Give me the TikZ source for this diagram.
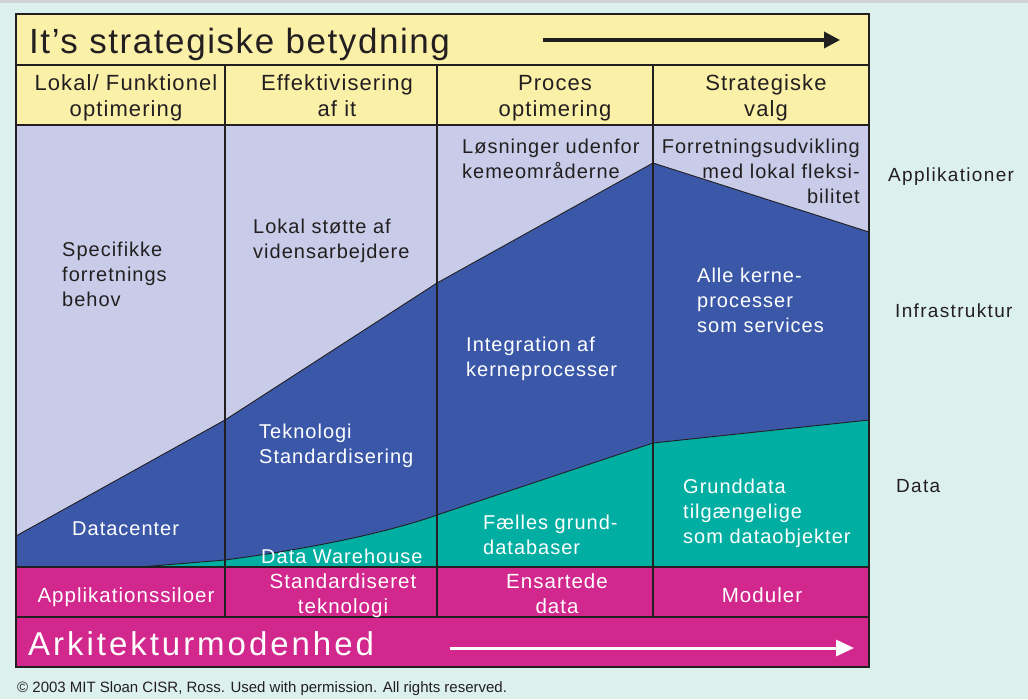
\documentclass[tikz,border=0pt]{standalone}
\usepackage{fontspec}
\setmainfont{Liberation Sans}
\usetikzlibrary{arrows.meta}

\definecolor{pagebg}{HTML}{DCF0EE}
\definecolor{stripgrey}{HTML}{D3D3D3}
\definecolor{paleyellow}{HTML}{FAF0A8}
\definecolor{lavender}{HTML}{C8CCE8}
\definecolor{deepblue}{HTML}{3B58A8}
\definecolor{seagreen}{HTML}{00AEA2}
\definecolor{magentafill}{HTML}{D2288E}
\definecolor{ink}{HTML}{231F20}

\newcommand\fTitle{\fontsize{35}{40}\selectfont\addfontfeature{LetterSpace=4.5}}
\newcommand\fHead{\fontsize{22}{26}\selectfont\addfontfeature{LetterSpace=5}}
\newcommand\fBody{\fontsize{20}{25}\selectfont\addfontfeature{LetterSpace=5}}
\newcommand\fRow{\fontsize{20.5}{25}\selectfont\addfontfeature{LetterSpace=5}}
\newcommand\fSide{\fontsize{19}{24}\selectfont\addfontfeature{LetterSpace=7}}
\newcommand\fBig{\fontsize{33}{40}\selectfont\addfontfeature{LetterSpace=9}}
\newcommand\fNote{\fontsize{15}{18}\selectfont}

% multi-line labels are placed by the baseline of their last line
\tikzset{
  grid/.style={draw=ink, line width=2pt},
  thinrule/.style={draw=ink, line width=1.5pt},
  edge/.style={draw=ink, line width=0.9pt},
  headlbl/.style={inner sep=0pt, anchor=base, align=center, font=\fHead, text=ink},
  darklbl/.style={inner sep=0pt, anchor=base west, align=left, font=\fBody, text=ink},
  lightlbl/.style={inner sep=0pt, anchor=base west, align=left, font=\fBody, text=white},
  rowlbl/.style={inner sep=0pt, anchor=base, align=center, font=\fRow, text=white},
  sidelbl/.style={inner sep=0pt, anchor=base west, font=\fSide, text=ink},
}

\begin{document}
\begin{tikzpicture}[x=1pt, y=-1pt]
  % page
  \fill[pagebg] (0,0) rectangle (1028,699);
  \useasboundingbox (0,0) rectangle (1028,699);
  \fill[stripgrey] (0,0) rectangle (1028,3);

  % title band and column headers
  \fill[paleyellow] (16,14) rectangle (869,125);

  % three layers of the chart
  \fill[lavender] (16,125) rectangle (869,567);
  \fill[deepblue] (16,536) -- (225,420) -- (437,283) -- (653,163) -- (869,232)
                  -- (869,567) -- (16,567) -- cycle;
  \draw[edge] (16,536) -- (225,420) -- (437,283) -- (653,163) -- (869,232);
  \fill[seagreen] (140,567) -- (225,560) .. controls (300,550) and (380,535) .. (437,515)
                  -- (653,443) -- (869,420) -- (869,567) -- cycle;
  \draw[edge] (140,567) -- (225,560) .. controls (300,550) and (380,535) .. (437,515)
              -- (653,443) -- (869,420);

  % bottom rows
  \fill[magentafill] (16,567) rectangle (869,667);

  % rules
  \draw[thinrule] (16,65) -- (869,65);
  \draw[thinrule] (16,125) -- (869,125);
  \draw[thinrule] (16,567) -- (869,567);
  \draw[grid, line width=2.5pt] (16,617) -- (869,617);
  \foreach \cx in {225,437,653} \draw[grid] (\cx,65) -- (\cx,617);
  \draw[grid] (16,14) rectangle (869,667);

  % title
  \node[inner sep=0pt, anchor=base west, font=\fTitle, text=ink] (title) at (29,53) {It’s strategiske betydning};
  \coordinate (ta) at (543,40);
  \coordinate (tb) at (840,40);
  \draw[ink, line width=3.5pt, -{Triangle[length=16pt,width=16pt]}] (ta) -- (tb);

  % column headers
  \node[headlbl] (h1) at (126,116) {Lokal/ Funktionel\\optimering};
  \node[headlbl] (h2) at (337,116) {Effektivisering\\af it};
  \node[headlbl] (h3) at (555,116) {Proces\\optimering};
  \node[headlbl] (h4) at (766,116) {Strategiske\\valg};

  % upper layer texts
  \node[darklbl] (a1) at (62,306) {Specifikke\\forretnings\\behov};
  \node[darklbl] (a2) at (253,258) {Lokal støtte af\\vidensarbejdere};
  \node[darklbl] (a3) at (462,178) {Løsninger udenfor\\kemeområderne};
  \node[darklbl, anchor=base east, align=right] (a4) at (860,203) {Forretningsudvikling\\med lokal fleksi-\\bilitet};

  % middle layer texts
  \node[lightlbl] (b1) at (72,535) {Datacenter};
  \node[lightlbl] (b2) at (259,463) {Teknologi\\Standardisering};
  \node[lightlbl] (b3) at (466,376) {Integration af\\kerneprocesser};
  \node[lightlbl] (b4) at (697,332) {Alle kerne-\\processer\\som services};

  % lower layer texts
  \node[lightlbl] (c2) at (261,563) {Data Warehouse};
  \node[lightlbl] (c3) at (483,554) {Fælles grund-\\databaser};
  \node[lightlbl] (c4) at (683,543) {Grunddata\\tilgængelige\\som dataobjekter};

  % row of architecture stages
  \begin{scope}
    \clip (16,567) rectangle (869,617);
    \node[rowlbl] (d1) at (126,602) {Applikationssiloer};
    \node[rowlbl] (d2) at (343,613) {Standardiseret\\teknologi};
    \node[rowlbl] (d3) at (557,613) {Ensartede\\data};
    \node[rowlbl] (d4) at (762,602) {Moduler};
  \end{scope}

  % maturity band
  \node[inner sep=0pt, anchor=base west, font=\fBig, text=white] (maturity) at (28,655) {Arkitekturmodenhed};
  \coordinate (ma) at (450,648);
  \coordinate (mb) at (854,648);
  \draw[white, line width=3pt, -{Triangle[length=18pt,width=16pt]}] (ma) -- (mb);

  % layer names
  \node[sidelbl] (s1) at (888,181) {Applikationer};
  \node[sidelbl] (s2) at (895,317) {Infrastruktur};
  \node[sidelbl] (s3) at (896,492) {Data};

  % credit line
  \node[inner sep=0pt, anchor=base west, font=\fNote, text=ink] (credit) at (17,692)
    {© 2003 MIT Sloan CISR, Ross. Used with permission. All rights reserved.};
\end{tikzpicture}
\end{document}
